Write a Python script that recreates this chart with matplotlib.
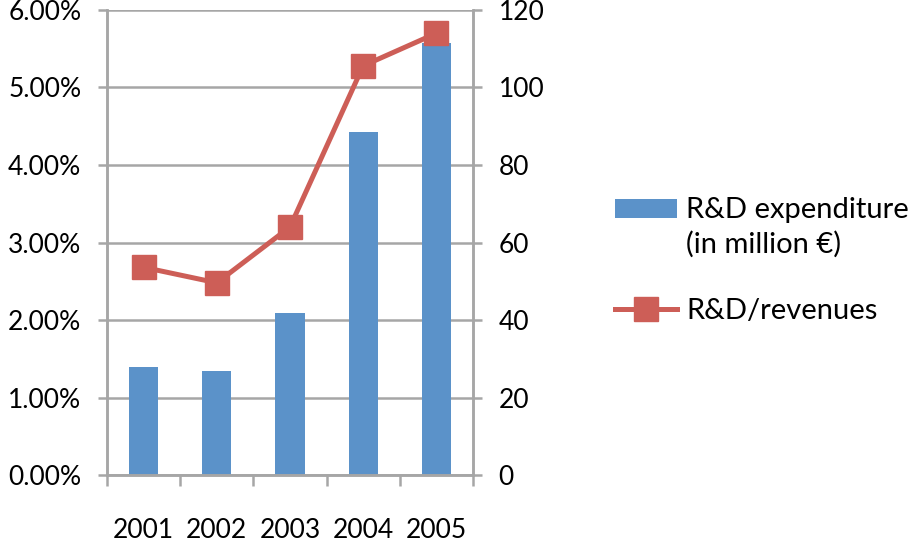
import numpy as np
import matplotlib.pyplot as plt
from matplotlib.patches import Rectangle
from matplotlib.legend_handler import HandlerPatch
from matplotlib.ticker import FuncFormatter, FixedLocator

plt.rcParams['font.family'] = ['Lato', 'DejaVu Sans']

# 数据
years = ['2001', '2002', '2003', '2004', '2005']
rd_expenditure = [27.8, 26.8, 41.7, 88.5, 111.5]   # million €
rd_revenues = [2.68, 2.48, 3.20, 5.28, 5.70]        # %

bar_color = '#5B92C9'
line_color = '#CD5E57'
grid_color = '#A6A6A6'

fig = plt.figure(figsize=(9.2, 5.46), dpi=100)
ax = fig.add_axes([0.1163, 0.130, 0.3978, 0.8517])   # 柱状图轴 (右侧刻度)
ax2 = ax.twinx()                                     # 折线图轴 (左侧刻度)

x = np.arange(len(years))
bars = ax.bar(x, rd_expenditure, width=0.4, color=bar_color, zorder=2)
line, = ax2.plot(x, [v / 100 for v in rd_revenues], color=line_color, lw=3.6,
                 marker='s', markersize=17, zorder=3)

ax.set_xlim(-0.5, 4.5)
ax.set_ylim(0, 120)
ax2.set_ylim(0, 0.06)
ax.set_yticks(np.arange(0, 121, 20))
ax2.set_yticks(np.arange(0, 0.061, 0.01))
ax2.yaxis.set_major_formatter(FuncFormatter(lambda v, p: f'{v * 100:.2f}%'))

# 刻度位置互换
ax.yaxis.tick_right()
ax2.yaxis.tick_left()

ax.grid(axis='y', color=grid_color, lw=1.8, zorder=0)
ax.set_axisbelow(True)

for a in (ax, ax2):
    for s in a.spines.values():
        s.set_color(grid_color)
        s.set_linewidth(1.8)
    a.spines['top'].set_visible(False)

ax.tick_params(axis='y', direction='out', length=6.5, width=1.8, color=grid_color,
               labelsize=19, pad=12)
ax2.tick_params(axis='y', direction='out', length=6.5, width=1.8, color=grid_color,
                labelsize=19, pad=12)

ax.set_xticks(x)
ax.set_xticklabels(years)
ax.xaxis.set_minor_locator(FixedLocator(np.arange(-0.5, 4.6, 1)))
ax.tick_params(axis='x', which='major', length=0, labelsize=19, pad=31)
ax.tick_params(axis='x', which='minor', direction='out', length=8, width=1.8,
               color=grid_color)


# 图例色块与第一行文字对齐
def top_patch(legend, orig_handle, xdescent, ydescent, width, height, fontsize):
    return Rectangle((-xdescent, -ydescent + 0.66 * fontsize), width, height)


bar_handle = bars.patches[0]
leg = fig.legend([bar_handle, line], ['R&D expenditure\n(in million €)', 'R&D/revenues'],
                 loc='upper left', bbox_to_anchor=(0.668, 0.64),
                 frameon=False, fontsize=21, handlelength=2.15, handleheight=0.6,
                 handletextpad=0.3, labelspacing=1.35, borderpad=0, borderaxespad=0,
                 handler_map={bar_handle: HandlerPatch(patch_func=top_patch)})
for t in leg.get_texts():
    t.set_linespacing(1.4)

fig.savefig('out.png', dpi=100)
